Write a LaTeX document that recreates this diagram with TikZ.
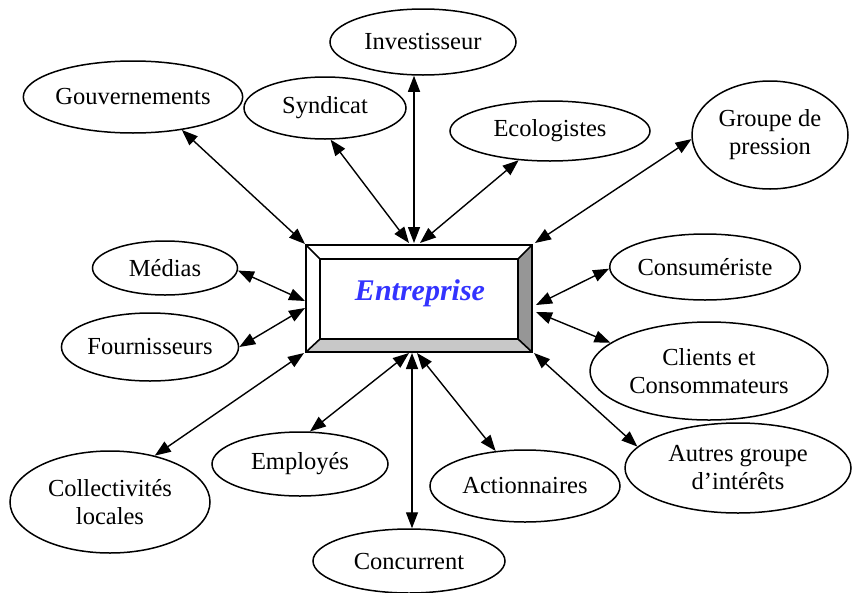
\documentclass[tikz,border=0pt]{standalone}
\usepackage{fontspec}
\setmainfont{Liberation Serif}
\usetikzlibrary{arrows.meta,shapes.geometric}
\definecolor{entblue}{RGB}{51,51,255}
\definecolor{bevdark}{RGB}{150,150,150}
\definecolor{bevlight}{RGB}{200,200,200}
\begin{document}
\begin{tikzpicture}[x=1pt,y=-1pt,
  ell/.style={draw, ellipse, inner sep=0pt, line width=1.5pt, align=center,
    font=\fontsize{24.5}{28}\selectfont},
  link/.style={line width=1.4pt, {Triangle[length=16pt,width=12pt]}-{Triangle[length=16pt,width=12pt]}},
  boxline/.style={line width=1.6pt}]
\useasboundingbox (0,0) rectangle (854,592);
% central box
\coordinate (o1) at (306,245); \coordinate (o2) at (532,245);
\coordinate (o3) at (532,352); \coordinate (o4) at (306,352);
\coordinate (i1) at (320,259); \coordinate (i2) at (518,259);
\coordinate (i3) at (518,339); \coordinate (i4) at (320,339);
\fill[white] (o1) -- (o2) -- (o3) -- (o4) -- cycle;
\fill[bevdark] (o2) -- (o3) -- (i3) -- (i2) -- cycle;
\fill[bevlight] (o4) -- (o3) -- (i3) -- (i4) -- cycle;
\draw[boxline] (o1) -- (o2) -- (o3) -- (o4) -- cycle;
\draw[boxline] (i1) -- (i2) -- (i3) -- (i4) -- cycle;
\draw[boxline] (o1) -- (i1) (o2) -- (i2) (o3) -- (i3) (o4) -- (i4);
\node[anchor=base, text=entblue, font=\fontsize{30}{34}\selectfont\bfseries\itshape] (ent) at (420,300) {Entreprise};
% ellipses
\node[ell, minimum width=186pt, minimum height=66pt] (inv) at (423,42) {Investisseur};
\node[ell, minimum width=210pt, minimum height=72pt] (gouv) at (133,97) {Gouvernements};
\node[ell, minimum width=162pt, minimum height=62pt] (syn) at (325,108) {Syndicat};
\node[ell, minimum width=200pt, minimum height=60pt] (eco) at (550,131) {Ecologistes};
\node[ell, minimum width=156pt, minimum height=108pt] (grp) at (770,135) {Groupe de\\pression};
\node[ell, minimum width=145pt, minimum height=54pt] (med) at (165,268) {Médias};
\node[ell, minimum width=174pt, minimum height=68pt] (four) at (150,347) {Fournisseurs};
\node[ell, minimum width=178pt, minimum height=66pt] (cons) at (705,267) {Consumériste};
\node[ell, minimum width=238pt, minimum height=98pt] (cli) at (709,371) {Clients et\\Consommateurs};
\node[ell, minimum width=226pt, minimum height=90pt] (aut) at (738,468) {Autres groupe\\d’intérêts};
\node[ell, minimum width=200pt, minimum height=102pt] (col) at (110,502) {Collectivités\\locales};
\node[ell, minimum width=176pt, minimum height=64pt] (emp) at (300,464) {Employés};
\node[ell, minimum width=190pt, minimum height=72pt] (act) at (525,486) {Actionnaires};
\node[ell, minimum width=192pt, minimum height=64pt] (conc) at (409,561) {Concurrent};
% attachment points on the box
\coordinate (bG) at (305,244);
\coordinate (bS) at (409,243);
\coordinate (bI) at (414,243);
\coordinate (bE) at (420,243);
\coordinate (bP) at (535,243);
\coordinate (bM) at (305,301);
\coordinate (bF) at (305,308);
\coordinate (bC) at (304,353);
\coordinate (bEm) at (409,353);
\coordinate (bCo) at (412,353);
\coordinate (bA) at (417,353);
\coordinate (bAu) at (534,353);
\coordinate (bCs) at (536,305);
\coordinate (bCl) at (536,312);
% connectors
\draw[link] (bG) -- (gouv.-34);
\draw[link] (bS) -- (syn.-80);
\draw[link] (bI) -- (bI |- inv.south);
\draw[link] (bE) -- (eco.-137);
\draw[link] (bP) -- (grp.-177);
\draw[link] (bM) -- (med.-2);
\draw[link] (bF) -- (four.east);
\draw[link] (bC) -- (col.46);
\draw[link] (bEm) -- (emp.73);
\draw[link] (bCo) -- (bCo |- conc.north);
\draw[link] (bA) -- (act.130);
\draw[link] (bAu) -- (aut.168);
\draw[link] (bCs) -- (cons.-179);
\draw[link] (bCl) -- (cli.164);
\end{tikzpicture}
\end{document}
